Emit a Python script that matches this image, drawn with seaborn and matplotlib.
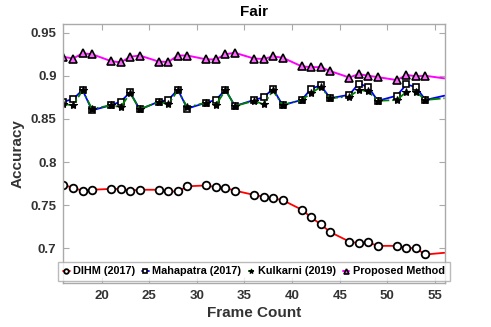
import numpy as np
import pandas as pd
import seaborn as sns
from matplotlib import pyplot as plt

# frame counts where each method was evaluated (last value has no marker)
frames = [16, 17, 18, 19, 21, 22, 23, 24, 26, 27, 28, 29, 31, 32, 33, 34,
          36, 37, 38, 39, 41, 42, 43, 44, 46, 47, 48, 49, 51, 52, 53, 54, 56]

dihm = [0.774, 0.770, 0.767, 0.768, 0.769, 0.769, 0.767, 0.768, 0.768, 0.766, 0.766, 0.772,
        0.773, 0.771, 0.770, 0.767, 0.762, 0.760, 0.758, 0.756, 0.745, 0.736, 0.728, 0.719,
        0.708, 0.706, 0.707, 0.703, 0.703, 0.701, 0.700, 0.693, 0.695]
mahapatra = [0.870, 0.873, 0.8835, 0.860, 0.866, 0.870, 0.881, 0.861, 0.870, 0.872, 0.884, 0.862,
             0.869, 0.872, 0.884, 0.865, 0.872, 0.875, 0.885, 0.866, 0.872, 0.885, 0.889, 0.874,
             0.878, 0.891, 0.887, 0.871, 0.877, 0.890, 0.887, 0.872, 0.877]
kulkarni = [0.867, 0.866, 0.883, 0.8615, 0.866, 0.8635, 0.880, 0.861, 0.870, 0.867, 0.883, 0.8635,
            0.869, 0.866, 0.8835, 0.865, 0.871, 0.867, 0.883, 0.866, 0.872, 0.880, 0.887, 0.874,
            0.876, 0.8835, 0.882, 0.871, 0.872, 0.8815, 0.8815, 0.872, 0.874]
proposed = [0.922, 0.920, 0.926, 0.925, 0.917, 0.9155, 0.922, 0.9235, 0.9165, 0.916, 0.9235, 0.9235,
            0.919, 0.919, 0.925, 0.9266, 0.920, 0.9195, 0.9225, 0.921, 0.911, 0.910, 0.910, 0.9055,
            0.898, 0.902, 0.900, 0.8985, 0.895, 0.901, 0.8995, 0.900, 0.897]

df = pd.DataFrame({'frame': frames, 'DIHM (2017)': dihm, 'Mahapatra (2017)': mahapatra,
                   'Kulkarni (2019)': kulkarni, 'Proposed Method': proposed})

sns.set_style('white')
plt.rcParams['font.family'] = ['Liberation Sans', 'DejaVu Sans']
plt.rcParams['font.weight'] = 'bold'

fig = plt.figure(figsize=(4.91, 3.27), dpi=100)
ax = fig.add_axes([0.1293, 0.1346, 0.776, 0.792])

marks = list(range(len(frames) - 1))

sns.lineplot(x='frame', y='Proposed Method', data=df, ax=ax, color='#ff00ff', lw=1.4,
             marker='^', ms=6, mfc='#ff66ff', mec='black', mew=1.2, markevery=marks,
             label='Proposed Method')
sns.lineplot(x='frame', y='DIHM (2017)', data=df, ax=ax, color='red', lw=1.3,
             marker='o', ms=5.5, mfc='white', mec='black', mew=1.3, markevery=marks,
             label='DIHM (2017)')
sns.lineplot(x='frame', y='Mahapatra (2017)', data=df, ax=ax, color='blue', lw=1.3,
             marker='s', ms=5, mfc='white', mec='black', mew=1.2, markevery=marks,
             label='Mahapatra (2017)')
sns.lineplot(x='frame', y='Kulkarni (2019)', data=df, ax=ax, color='green', lw=1.3, ls='-.',
             marker='*', ms=6, mfc='black', mec='black', mew=0.8, markevery=marks,
             label='Kulkarni (2019)')

ax.set_xlim(16, 56)
ax.set_ylim(0.66, 0.96)
ax.set_xticks([20, 25, 30, 35, 40, 45, 50, 55])
ax.set_yticks([0.7, 0.75, 0.8, 0.85, 0.9, 0.95])
ax.set_yticklabels(['0.7', '0.75', '0.8', '0.85', '0.9', '0.95'])
ax.tick_params(direction='in', length=4, color='#aaaaaa', labelsize=9.5, labelcolor='#333333',
               top=True, right=True, bottom=True, left=True, width=0.8, pad=5)
for s in ax.spines.values():
    s.set_color('#aaaaaa')
    s.set_linewidth(1.0)

ax.set_xlabel('Frame Count', fontsize=11, fontweight='bold', color='#333333', labelpad=3)
ax.set_ylabel('Accuracy', fontsize=11, fontweight='bold', color='#333333', labelpad=4)
ax.set_title('Fair', fontsize=11, fontweight='bold', color='black', pad=6)

h, l = ax.get_legend_handles_labels()
order = [1, 2, 3, 0]
leg = ax.legend([h[i] for i in order], [l[i] for i in order], loc='lower center', ncol=4,
                fontsize=7.8, handlelength=0.6, handletextpad=0.35, columnspacing=0.6,
                borderpad=0.45, borderaxespad=0.15, frameon=True, fancybox=False,
                edgecolor='#aaaaaa', markerscale=0.6)
leg.get_frame().set_linewidth(1.0)
for t in leg.get_texts():
    t.set_color('black')

plt.savefig('out.png', dpi=100)
